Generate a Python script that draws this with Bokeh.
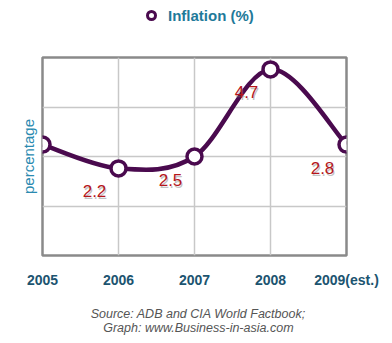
import numpy as np
from bokeh.plotting import figure
from bokeh.layouts import column
from bokeh.models import (ColumnDataSource, FixedTicker, Legend, LegendItem, Range1d)
from bokeh.core.properties import value
from bokeh.embed import file_html
from bokeh.resources import INLINE

years = [2005, 2006, 2007, 2008, 2009]
inflation = [2.8, 2.2, 2.5, 4.7, 2.8]
value_labels = ["2.8", "2.2", "2.5", "4.7", "2.8"]
tick_labels = {2005: "2005", 2006: "2006", 2007: "2007", 2008: "2008", 2009: "2009(est.)"}
series_name = "Inflation (%)"
y_label = "percentage"
source_lines = ["Source: ADB and CIA World Factbook;", "Graph: www.Business-in-asia.com"]

LINE = "#4a0a4e"
FONT = "Liberation Sans"


def strip(h):
    f = figure(width=392, height=h, output_backend="svg", toolbar_location=None,
               x_range=Range1d(0, 392), y_range=Range1d(h, 0),
               min_border=0, outline_line_color=None)
    f.axis.visible = False
    f.grid.visible = False
    return f


# ---- legend strip ----
lf = strip(30)
dummy = lf.scatter([-50], [-50], size=10, fill_color="white", line_color=LINE, line_width=3)
legend = Legend(items=[LegendItem(label=series_name, renderers=[dummy])],
                location=(99, 5), border_line_color=None, background_fill_alpha=0,
                padding=0, margin=0, glyph_width=20, glyph_height=20, label_standoff=7,
                label_text_font=FONT, label_text_font_style="bold", label_text_font_size="15px",
                label_text_color="#1f7a9a")
lf.add_layout(legend, "center")

# ---- main chart ----
p = figure(width=392, height=260, output_backend="svg", toolbar_location=None,
           x_range=Range1d(2005, 2009), y_range=Range1d(0, 5),
           min_border_left=42, min_border_right=46, min_border_top=27, min_border_bottom=33)
p.background_fill_color = "white"
p.border_fill_color = "white"
p.outline_line_color = "#8a8a8a"
p.outline_line_width = 2.5

# Catmull-Rom -> cubic bezier segments (smooth line through the data points)
xs = np.array(years, dtype=float)
ys = np.array(inflation, dtype=float)
n = len(xs)
x0, y0, x1, y1, cx0, cy0, cx1, cy1 = [], [], [], [], [], [], [], []
for i in range(n - 1):
    pm = max(i - 1, 0)
    pp = min(i + 2, n - 1)
    x0.append(xs[i]); y0.append(ys[i]); x1.append(xs[i + 1]); y1.append(ys[i + 1])
    cx0.append(xs[i] + (xs[i + 1] - xs[pm]) / 6); cy0.append(ys[i] + (ys[i + 1] - ys[pm]) / 6)
    cx1.append(xs[i + 1] - (xs[pp] - xs[i]) / 6); cy1.append(ys[i + 1] - (ys[pp] - ys[i]) / 6)
bsrc = ColumnDataSource(dict(x0=x0, y0=y0, x1=x1, y1=y1, cx0=cx0, cy0=cy0, cx1=cx1, cy1=cy1))
p.bezier(x0="x0", y0="y0", x1="x1", y1="y1", cx0="cx0", cy0="cy0", cx1="cx1", cy1="cy1",
         source=bsrc, line_color=LINE, line_width=4.5)

src = ColumnDataSource(dict(x=years, y=inflation, lab=value_labels))
p.scatter("x", "y", source=src, size=15, fill_color="white", line_color=LINE, line_width=3.5)

# value labels with a soft shadow
p.text("x", "y", text="lab", source=src, x_offset=-23, y_offset=25,
       text_font=value(FONT), text_font_size="17px", text_color="#777777", text_alpha=0.45,
       text_align="center", text_baseline="middle")
p.text("x", "y", text="lab", source=src, x_offset=-24, y_offset=23,
       text_font=value(FONT), text_font_size="17px", text_color="#b5161b",
       text_align="center", text_baseline="middle")

# grid
p.xgrid.ticker = FixedTicker(ticks=years)
p.ygrid.ticker = FixedTicker(ticks=[0, 1.25, 2.5, 3.75, 5])
p.xgrid.grid_line_color = "#c8c8c8"
p.ygrid.grid_line_color = "#c8c8c8"
p.xgrid.grid_line_width = 1.5
p.ygrid.grid_line_width = 1.5

# axes
p.xaxis.ticker = FixedTicker(ticks=years)
p.xaxis.major_label_overrides = tick_labels
p.xaxis.major_label_text_font = FONT
p.xaxis.major_label_text_font_style = "bold"
p.xaxis.major_label_text_font_size = "14px"
p.xaxis.major_label_text_color = "#1c5470"
p.xaxis.major_label_standoff = 10
p.xaxis.axis_line_color = None
p.xaxis.major_tick_line_color = None
p.xaxis.minor_tick_line_color = None

p.yaxis.ticker = FixedTicker(ticks=[0])
p.yaxis.major_label_overrides = {0: " "}
p.yaxis.major_label_text_color = None
p.yaxis.major_label_standoff = 7
p.yaxis.axis_line_color = None
p.yaxis.major_tick_line_color = None
p.yaxis.minor_tick_line_color = None
p.yaxis.axis_label = y_label
p.yaxis.axis_label_text_font = FONT
p.yaxis.axis_label_text_font_style = "normal"
p.yaxis.axis_label_text_font_size = "15px"
p.yaxis.axis_label_text_color = "#2a8ab0"
p.yaxis.axis_label_standoff = 0

# ---- source strip ----
sf = strip(53)
sf.text(x=[201, 201], y=[23.5, 37.5], text=source_lines,
        text_font=value(FONT), text_font_style="italic", text_font_size="12.5px",
        text_color="#555555", text_align="center", text_baseline="middle")

layout = column(lf, p, sf, spacing=0)
open("out.html", "w").write(file_html(layout, INLINE))
